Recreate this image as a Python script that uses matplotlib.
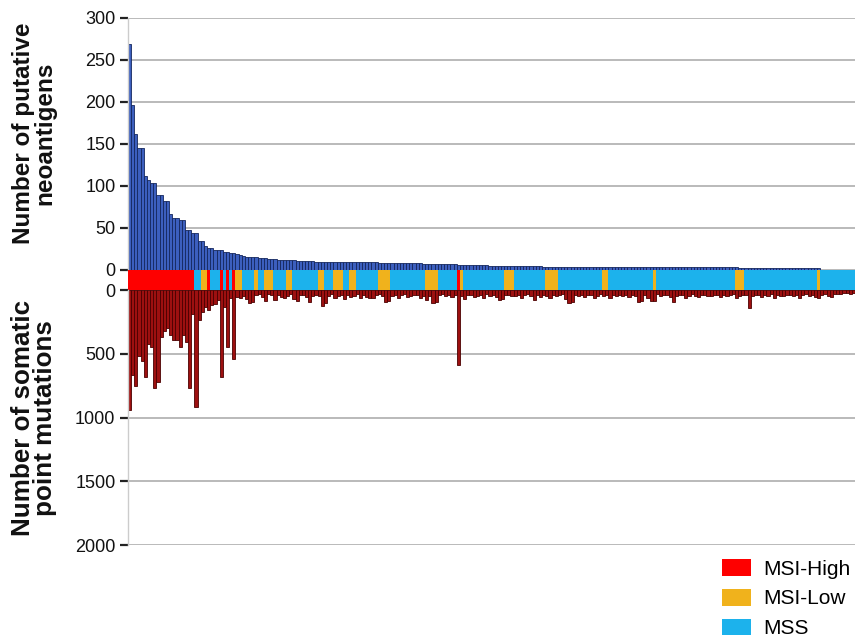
import matplotlib
matplotlib.use("Agg")
import matplotlib.pyplot as plt
from matplotlib.patches import Patch

plt.rcParams['font.family'] = ['Liberation Sans', 'DejaVu Sans']

# number of putative neoantigens per tumour, sorted high to low
neoantigens = [
    269, 196, 162, 145, 145, 112, 107, 104, 104, 89, 89, 82, 82, 67, 62, 62,
    59, 59, 48, 48, 44, 44, 34, 34, 29, 26, 26, 24, 24, 24, 21, 21,
    20, 20, 19, 18, 17, 16, 16, 15, 15, 14,
    14, 14, 13, 13, 13, 12, 12, 12,
    12, 12, 12, 11, 11, 11, 11, 11, 11, 10, 10, 10,
    10, 10, 10, 10, 10, 10, 9, 9, 9, 9, 9, 9, 9, 9, 9, 9, 9,
    8, 8, 8, 8, 8, 8, 8, 8, 8, 8, 8, 8, 8, 8,
    7, 7, 7, 7, 7, 7, 7, 7, 7, 7, 7,
    6, 6, 6, 6, 6, 6, 6, 6, 6, 6, 5, 5, 5, 5, 5, 5, 5, 5, 5, 5, 5, 5, 5, 5, 5, 5, 5,
    4, 4, 4, 4, 4, 4, 4, 4, 4, 4, 4, 4, 4, 4, 4, 4, 4, 4, 4,
    3, 3, 3, 3, 3, 3, 3, 3, 3, 3, 3, 3, 3, 3, 3, 3, 3, 3, 3, 3, 3, 3,
    3, 3, 3, 3, 3, 3, 3, 3, 3, 3, 3, 3, 3, 3, 3, 3, 3, 3, 3, 3, 3,
    2, 2, 2, 2, 2, 2, 2, 2, 2, 2, 2, 2, 2, 2, 2, 2, 2, 2, 2, 2, 2, 2, 2, 2, 2, 2,
    0, 0, 0, 0, 0, 0, 0, 0, 0, 0, 0,
]

# number of somatic point mutations, same tumour order
mutations = [
    940, 670, 755, 515, 560, 685, 420, 450, 765, 725, 370, 320, 300, 355, 395,
    395, 450, 355, 410, 765, 185, 920, 237, 170, 130, 158, 118, 110, 79, 685,
    132, 448, 66, 545, 55,
    60, 45, 72, 105, 98, 40, 35, 52, 88, 30, 42, 75, 38, 55, 62,
    48, 33, 70, 85, 40, 36, 58, 92, 45, 38, 50, 126, 102, 44, 35,
    60, 48, 40, 72, 38, 52, 45, 30, 66, 42, 58, 65, 64, 40, 35,
    50, 92, 88, 45, 38, 60, 42, 35, 55, 48, 40, 36, 62, 45, 80,
    50, 105, 98, 40, 35, 48, 42, 55, 38, 590, 45, 70, 36, 40, 52,
    44, 38, 60, 35, 48, 42, 55, 79, 72, 40, 36, 50, 45, 38, 62,
    40, 35, 48, 79, 42, 55, 36, 45, 60, 38, 50, 42, 35, 70, 105,
    92, 40, 48, 36, 55, 42, 38, 60, 45, 35, 50, 40, 62, 38, 44,
    36, 48, 42, 55, 38, 45, 92, 88, 40, 60, 85, 90, 35, 48, 42,
    38, 55, 92, 45, 40, 36, 62, 48, 35, 44, 58, 40, 38, 50, 45,
    36, 42, 55, 40, 48, 38, 35, 60, 45, 40, 38, 142, 50, 42, 36,
    55, 40, 48, 35, 62, 38, 44, 50, 36, 42, 48, 40, 66, 38, 35,
    45, 40, 52, 66, 38, 35, 44, 52, 30, 28, 35, 26, 22, 30, 25,
]

# MSI status along the same order, as (status, number of tumours) runs
status_runs = [
    ("MSI-High", 21), ("MSS", 2), ("MSI-Low", 2), ("MSI-High", 1), ("MSS", 3),
    ("MSI-High", 1), ("MSS", 1), ("MSI-High", 1), ("MSS", 1), ("MSI-High", 1),
    ("MSI-Low", 2), ("MSS", 4), ("MSI-Low", 1), ("MSS", 2), ("MSI-Low", 3),
    ("MSS", 4), ("MSI-Low", 2), ("MSS", 8), ("MSI-Low", 2), ("MSS", 3),
    ("MSI-Low", 3), ("MSS", 2), ("MSI-Low", 2), ("MSS", 7), ("MSI-Low", 4),
    ("MSS", 11), ("MSI-Low", 4), ("MSS", 6), ("MSI-High", 1), ("MSI-Low", 1),
    ("MSS", 13), ("MSI-Low", 3), ("MSS", 10), ("MSI-Low", 4), ("MSS", 14),
    ("MSI-Low", 2), ("MSS", 14), ("MSI-Low", 1), ("MSS", 25), ("MSI-Low", 3),
    ("MSS", 23), ("MSI-Low", 1), ("MSS", 11),
]
status_names = ["MSI-High", "MSI-Low", "MSS"]
status_colors = {"MSI-High": "#fe0000", "MSI-Low": "#f0b21c", "MSS": "#1cb2ec"}

status = []
for name, count in status_runs:
    status += [name] * count
samples = list(range(len(neoantigens)))
n = len(samples)

fig = plt.figure(figsize=(8.61, 6.42), dpi=100)
left, width = 128 / 861, 727 / 861
ax_top = fig.add_axes([left, 1 - 270 / 642, width, 252 / 642])
ax_strip = fig.add_axes([left, 1 - 290 / 642, width, 20 / 642])
ax_bot = fig.add_axes([left, 1 - 545 / 642, width, 255 / 642])

ax_top.bar(samples, neoantigens, width=1.0, color='#3c5fbe',
           edgecolor='#15275e', linewidth=0.6)
ax_top.set_ylim(0, 300)
ax_top.set_yticks([0, 50, 100, 150, 200, 250, 300])

ax_bot.bar(samples, mutations, width=1.0, color='#9d1010',
           edgecolor='#4a0000', linewidth=0.6)
ax_bot.set_ylim(2000, 0)
ax_bot.set_yticks([0, 500, 1000, 1500, 2000])

for ax in (ax_top, ax_bot):
    ax.set_xlim(-0.5, n - 0.5)
    ax.set_xticks([])
    ax.yaxis.grid(True, color='#b4b4b4', linewidth=1.3)
    ax.set_axisbelow(True)
    for side in ('top', 'right', 'bottom'):
        ax.spines[side].set_visible(False)
    ax.spines['left'].set_color('#cccccc')
    ax.spines['left'].set_linewidth(1.0)
    ax.tick_params(axis='y', length=6, width=1.6, color='#222222',
                   labelsize=13, pad=3, labelcolor='#111111')

ax_strip.bar(samples, [1] * n, width=1.0,
             color=[status_colors[s] for s in status], linewidth=0)
ax_strip.set_xlim(-0.5, n - 0.5)
ax_strip.set_ylim(0, 1)
ax_strip.axis('off')

fig.text(34 / 861, 1 - 133 / 642, "Number of putative\nneoantigens",
         rotation=90, ha='center', va='center', fontsize=17.5,
         fontweight='bold', linespacing=0.92, color='#111111')
fig.text(34 / 861, 1 - 418 / 642, "Number of somatic\npoint mutations",
         rotation=90, ha='center', va='center', fontsize=18.7,
         fontweight='bold', linespacing=0.88, color='#111111')

handles = [Patch(facecolor=status_colors[s], edgecolor='none') for s in status_names]
fig.legend(handles, status_names, loc='upper left',
           bbox_to_anchor=(722 / 861, 1 - 559 / 642), frameon=False,
           fontsize=15, handlelength=1.4, handleheight=0.85,
           handletextpad=0.6, labelspacing=0.5, borderpad=0,
           borderaxespad=0)

fig.savefig("out.png", dpi=100)
